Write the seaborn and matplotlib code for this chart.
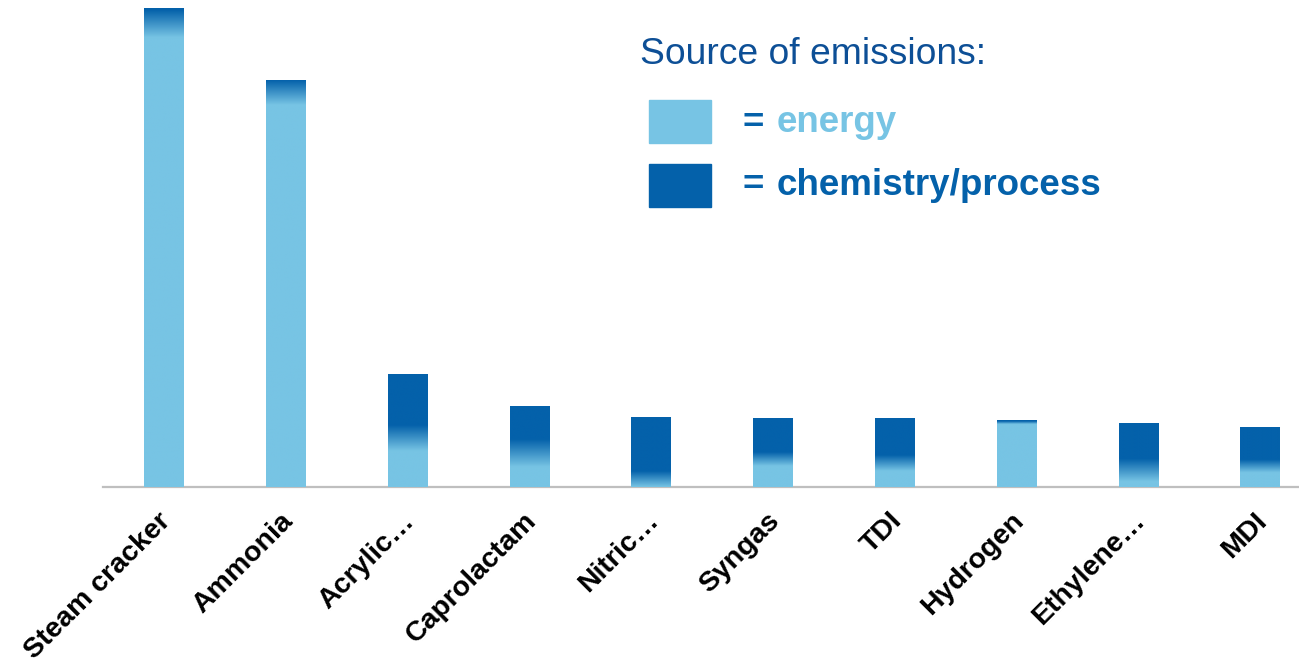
import numpy as np
import pandas as pd
import matplotlib.pyplot as plt
import matplotlib.transforms as mtransforms
import seaborn as sns
from matplotlib.colors import LinearSegmentedColormap
from matplotlib.patches import Rectangle

sns.set_style('white')
plt.rcParams['font.family'] = ['Liberation Sans', 'DejaVu Sans']

# data (arbitrary emission units)
categories = ['Steam cracker', 'Ammonia', 'Acrylic…', 'Caprolactam', 'Nitric…',
              'Syngas', 'TDI', 'Hydrogen', 'Ethylene…', 'MDI']
total = [47.9, 40.7, 11.3, 8.1, 7.0, 6.9, 6.9, 6.7, 6.4, 6.0]
energy = [46.4, 39.5, 4.9, 3.4, 0.8, 2.8, 2.4, 6.45, 1.7, 2.1]
# height of the colour blend between energy and process part
blend = [2.8, 2.5, 2.6, 2.8, 1.6, 1.4, 1.6, 0.3, 2.3, 1.3]

light = '#77C4E4'
dark = '#0461AA'
navy = '#0D4F96'

df = pd.DataFrame({'product': categories, 'total': total})

fig = plt.figure(figsize=(12.99, 6.65), dpi=100)
ax = fig.add_axes([103 / 1299, 178 / 665, 1196 / 1299, 487 / 665])

sns.barplot(data=df, x='product', y='total', color=dark, width=0.325,
            saturation=1, ax=ax)

cmap = LinearSegmentedColormap.from_list('blend', [light, dark])
for patch, tot, en, bl in zip(ax.patches, total, energy, blend):
    x0 = patch.get_x()
    w = patch.get_width()
    y = np.linspace(0, tot, 400)
    lo, hi = en - bl / 2, en + bl / 2
    t = np.clip((y - lo) / (hi - lo), 0, 1)
    img = ax.imshow(t[:, None], cmap=cmap, vmin=0, vmax=1, origin='lower',
                    extent=[x0, x0 + w, 0, tot], aspect='auto', zorder=3,
                    interpolation='bilinear')
    img.set_clip_path(patch)

ax.set_xlim(-0.5, -0.5 + 1196 / 121.8)
ax.set_ylim(0, 48.7)
ax.set_xlabel('')
ax.set_ylabel('')
ax.set_yticks([])
for s in ['top', 'right', 'left']:
    ax.spines[s].set_visible(False)
ax.spines['bottom'].set_color('#BFBFBF')
ax.spines['bottom'].set_linewidth(1.6)
ax.tick_params(axis='x', length=0, pad=15)
ax.set_xticks(range(len(categories)))
ax.set_xticklabels(categories, rotation=45, ha='right', va='top',
                   rotation_mode='anchor', fontsize=20.5, fontweight='bold',
                   color='black')
shift = mtransforms.ScaledTranslation(-6 / 100, 0, fig.dpi_scale_trans)
for lab in ax.get_xticklabels():
    lab.set_transform(lab.get_transform() + shift)

# legend
fig.text(640 / 1299, 1 - 54 / 665, 'Source of emissions:', fontsize=26.8,
         color=navy, va='center', ha='left')
fig.add_artist(Rectangle((649 / 1299, 1 - 143 / 665), 62 / 1299, 43 / 665,
                         transform=fig.transFigure, color=light))
fig.add_artist(Rectangle((649 / 1299, 1 - 207 / 665), 62 / 1299, 43 / 665,
                         transform=fig.transFigure, color=dark))
fig.text(743 / 1299, 1 - 123 / 665, '=', fontsize=26.5, fontweight='bold',
         color=dark, va='center', ha='left')
fig.text(777 / 1299, 1 - 123 / 665, 'energy', fontsize=26.5, fontweight='bold',
         color=light, va='center', ha='left')
fig.text(743 / 1299, 1 - 186 / 665, '=', fontsize=26.5, fontweight='bold',
         color=dark, va='center', ha='left')
fig.text(777 / 1299, 1 - 186 / 665, 'chemistry/process', fontsize=26.5,
         fontweight='bold', color=dark, va='center', ha='left')

fig.savefig('out.png', dpi=100)
